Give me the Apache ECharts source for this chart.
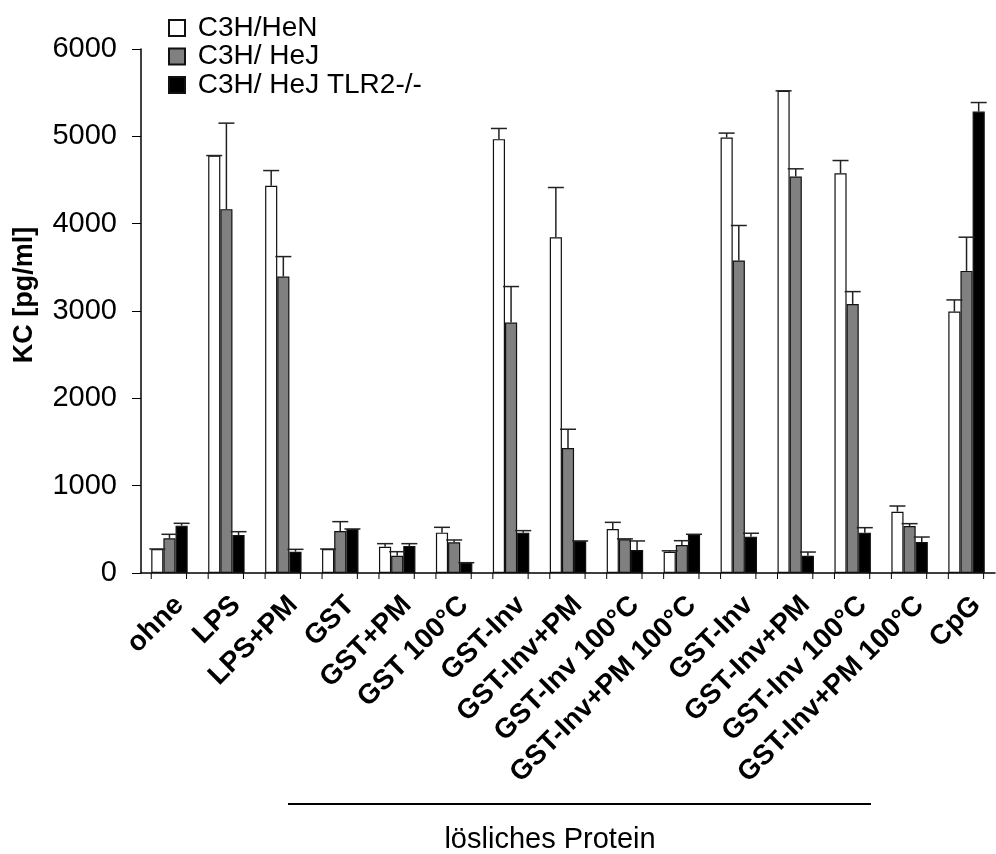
<!DOCTYPE html>
<html>
<head>
<meta charset="utf-8">
<script src="https://cdn.jsdelivr.net/npm/echarts@6/dist/echarts.min.js"></script>
<style>html,body{margin:0;padding:0;background:#fff;}#c{width:996px;height:854px;}</style>
</head>
<body>
<div id="c"></div>
<script>
const categories = ['ohne','LPS','LPS+PM','GST','GST+PM','GST 100°C','GST-Inv','GST-Inv+PM','GST-Inv 100°C','GST-Inv+PM 100°C','GST-Inv','GST-Inv+PM','GST-Inv 100°C','GST-Inv+PM 100°C','CpG'];
const seriesNames = ['C3H/HeN','C3H/ HeJ','C3H/ HeJ TLR2-/-'];
const heN      = [275, 4780, 4433, 275, 301, 462, 4968, 3845, 504, 244, 4987, 5521, 4578, 702, 2993];
const heNErr   = [0, 0, 175, 0, 35, 61, 122, 569, 76, 10, 50, 0, 145, 65, 134];
const heJ      = [397, 4166, 3394, 481, 198, 351, 2867, 1432, 386, 321, 3578, 4540, 3081, 538, 3459];
const heJErr   = [46, 985, 229, 107, 46, 27, 413, 214, 5, 49, 401, 88, 141, 27, 386];
const tlr2     = [542, 435, 244, 504, 309, 118, 462, 367, 263, 443, 416, 198, 462, 355, 5284];
const tlr2Err  = [27, 38, 27, 0, 27, 0, 23, 0, 104, 0, 39, 42, 57, 57, 103];
const yTicks   = [0, 1000, 2000, 3000, 4000, 5000, 6000];

const FONT = 'Arial, "Liberation Sans", sans-serif';
const GROUP_FRAC = 0.64; // share of a category band taken by the bar group
const colors = ['#ffffff', '#808080', '#000000'];
const values = [heN, heJ, tlr2];
const errs = [heNErr, heJErr, tlr2Err];

function errRender(sIdx) {
  return function (params, api) {
    const i = api.value(0), v = api.value(1), e = api.value(2);
    const band = api.size([1, 0])[0];
    const bw = band * GROUP_FRAC / 3;
    const p0 = api.coord([i, v]);
    const p1 = api.coord([i, v + e]);
    const cx = p0[0] + (sIdx - 1) * bw;
    const half = 8;
    const st = { stroke: '#222', lineWidth: 1.5 };
    return {
      type: 'group',
      children: [
        { type: 'line', shape: { x1: cx, y1: p0[1], x2: cx, y2: p1[1] }, style: st },
        { type: 'line', shape: { x1: cx - half, y1: p1[1], x2: cx + half, y2: p1[1] }, style: st }
      ]
    };
  };
}

// small tick marks at both edges of each bar group, below the x axis
function tickRender(params, api) {
  const i = api.value(0);
  const band = api.size([1, 0])[0];
  const p = api.coord([i, 0]);
  const left = p[0] - band * 0.32;
  const right = p[0] + band * 0.30;
  const st = { stroke: '#000', lineWidth: 1 };
  return {
    type: 'group',
    children: [
      { type: 'line', shape: { x1: left, y1: p[1], x2: left, y2: p[1] + 6 }, style: st },
      { type: 'line', shape: { x1: right, y1: p[1], x2: right, y2: p[1] + 6 }, style: st }
    ]
  };
}

const series = [];
values.forEach((arr, s) => {
  series.push({
    name: seriesNames[s],
    type: 'bar',
    data: arr,
    barGap: '0%',
    barCategoryGap: ((1 - GROUP_FRAC) * 100) + '%',
    itemStyle: { color: colors[s], borderColor: '#111', borderWidth: 1.2 },
    z: 2
  });
});
values.forEach((arr, s) => {
  series.push({
    type: 'custom',
    name: seriesNames[s] + ' err',
    renderItem: errRender(s),
    data: arr.map((v, i) => [i, v, errs[s][i]]),
    encode: { x: 0, y: 1 },
    z: 3,
    silent: true
  });
});
series.push({
  type: 'custom',
  name: 'ticks',
  renderItem: tickRender,
  clip: false,
  data: categories.map((c, i) => [i, 0]),
  encode: { x: 0, y: 1 },
  z: 4,
  silent: true
});

const chart = echarts.init(document.getElementById('c'), null, { renderer: 'canvas' });
chart.setOption({
  animation: false,
  backgroundColor: '#fff',
  grid: { left: 141, right: 1, top: 49, bottom: 281, containLabel: false },
  legend: {
    data: seriesNames,
    orient: 'vertical',
    left: 163,
    top: 9,
    icon: 'rect',
    itemWidth: 16,
    itemHeight: 16,
    itemGap: 0.5,
    formatter: n => ' ' + n,
    textStyle: { fontFamily: FONT, fontSize: 28, color: '#000', lineHeight: 28 }
  },
  xAxis: {
    type: 'category',
    data: categories,
    axisLine: { lineStyle: { color: '#000', width: 1.5 } },
    axisTick: { show: false },
    axisLabel: {
      interval: 0, rotate: 45, margin: 18, verticalAlign: 'top',
      fontFamily: FONT, fontSize: 28, fontWeight: 'bold', color: '#000'
    }
  },
  yAxis: {
    type: 'value',
    min: 0, max: 6000, interval: 1000,
    axisLine: { show: true, lineStyle: { color: '#000', width: 1.5 } },
    axisTick: { show: true, length: 9, lineStyle: { color: '#000', width: 1 } },
    splitLine: { show: false },
    axisLabel: {
      margin: 24, fontFamily: FONT, fontSize: 29, color: '#000',
      formatter: v => String(v)
    }
  },
  graphic: [
    {
      type: 'text', x: 25, y: 295, rotation: Math.PI / 2,
      style: { text: 'KC [pg/ml]', font: 'bold 27px ' + FONT, fill: '#000', align: 'center', verticalAlign: 'middle' }
    },
    {
      type: 'line', shape: { x1: 288, y1: 804, x2: 871, y2: 804 },
      style: { stroke: '#000', lineWidth: 2 }
    },
    {
      type: 'text', x: 550, y: 840,
      style: { text: 'lösliches Protein', font: '29px ' + FONT, fill: '#000', align: 'center', verticalAlign: 'middle' }
    }
  ],
  series: series
});
</script>
</body>
</html>
